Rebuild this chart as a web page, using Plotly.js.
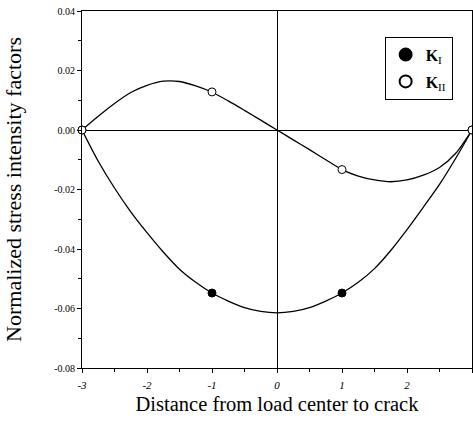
<!DOCTYPE html>
<html>
<head>
<meta charset="utf-8">
<script src="https://cdn.plot.ly/plotly-3.0.1.min.js"></script>
<style>html,body{margin:0;padding:0;background:#fff;}</style>
</head>
<body>
<div id="chart" style="width:473px;height:438px;"></div>
<script>
// Curve samples
const curveX   = [-3, -2.75, -2.5, -2.25, -2, -1.75, -1.5, -1.25, -1, -0.75, -0.5, -0.25, 0,
                  0.25, 0.5, 0.75, 1, 1.25, 1.5, 1.75, 2, 2.25, 2.5, 2.75, 3];
const kICurve  = [0, -0.0105, -0.0195, -0.0275, -0.0345, -0.0410, -0.0468, -0.0512, -0.0548, -0.0575, -0.0597, -0.0610, -0.0615,
                  -0.0610, -0.0597, -0.0575, -0.0548, -0.0512, -0.0466, -0.0405, -0.0335, -0.0260, -0.0183, -0.0095, 0];
const kIICurve = [0, 0.0046, 0.0089, 0.0126, 0.0150, 0.0164, 0.0163, 0.0148, 0.0127, 0.0098, 0.0066, 0.0033, 0,
                  -0.0033, -0.0066, -0.0100, -0.0133, -0.0155, -0.0168, -0.0174, -0.0168, -0.0152, -0.0126, -0.0078, 0];
// Computed points (markers)
const pointX   = [-3, -1, 1, 3];
const kIPts    = [0, -0.0548, -0.0548, 0];
const kIIPts   = [0, 0.0128, -0.0133, 0];
const xTicks   = [-3, -2, -1, 0, 1, 2, 3];
const yTicks   = [0.04, 0.02, 0.00, -0.02, -0.04, -0.06, -0.08];
const yTickText = ['0.04', '0.02', '0.00', '-0.02', '-0.04', '-0.06', '-0.08'];

const serif = '"Liberation Serif", "Times New Roman", serif';
const traces = [
  {x: curveX, y: kICurve, mode: 'lines', line: {color: '#000', width: 1.3, shape: 'spline', smoothing: 0.8}, showlegend: false, hoverinfo: 'skip'},
  {x: curveX, y: kIICurve, mode: 'lines', line: {color: '#000', width: 1.3, shape: 'spline', smoothing: 0.8}, showlegend: false, hoverinfo: 'skip'},
  {x: pointX, y: kIPts, mode: 'markers', name: '<b>K</b><sub>I</sub>', legendgroup: 'a', marker: {color: '#000', size: 8, line: {color: '#000', width: 1}}, cliponaxis: false},
  {x: pointX, y: kIIPts, mode: 'markers', name: '<b>K</b><sub>II</sub>', legendgroup: 'b', marker: {color: '#fff', size: 8, line: {color: '#000', width: 1}}, cliponaxis: false}
];

const layout = {
  width: 473, height: 438,
  margin: {l: 82, r: 1, t: 11, b: 70},
  paper_bgcolor: '#fff', plot_bgcolor: '#fff',
  font: {family: serif, color: '#000'},
  showlegend: true,
  legend: {
    x: 0.776, y: 0.928, xanchor: 'left', yanchor: 'top',
    bgcolor: '#fff', bordercolor: '#000', borderwidth: 1,
    font: {size: 16, family: serif, color: '#000'},
    itemsizing: 'constant', tracegroupgap: 3, itemwidth: 30
  },
  xaxis: {
    range: [-3, 3], tickvals: xTicks, ticktext: xTicks.map(String),
    showline: true, linecolor: '#000', linewidth: 1, mirror: true,
    ticks: 'outside', ticklen: 4, tickcolor: '#000', tickwidth: 1,
    minor: {dtick: 0.5, ticks: 'outside', ticklen: 3, tickcolor: '#000', showgrid: false},
    showgrid: false, zeroline: true, zerolinecolor: '#000', zerolinewidth: 1,
    tickfont: {size: 11, family: serif, style: 'italic'}, ticklabelstandoff: 3,
    title: {text: 'Distance from load center to crack', font: {size: 20.5, family: serif}, standoff: 6}
  },
  yaxis: {
    range: [-0.08, 0.04], tickvals: yTicks, ticktext: yTickText,
    showline: true, linecolor: '#000', linewidth: 1, mirror: true,
    ticks: 'outside', ticklen: 4, tickcolor: '#000', tickwidth: 1,
    minor: {dtick: 0.01, ticks: 'outside', ticklen: 3, tickcolor: '#000', showgrid: false},
    showgrid: false, zeroline: true, zerolinecolor: '#000', zerolinewidth: 1,
    tickfont: {size: 10, family: serif},
    title: {text: 'Normalized stress intensity factors', font: {size: 22, family: serif}, standoff: 26}
  }
};

Plotly.newPlot('chart', traces, layout, {displayModeBar: false, staticPlot: true});
</script>
</body>
</html>
